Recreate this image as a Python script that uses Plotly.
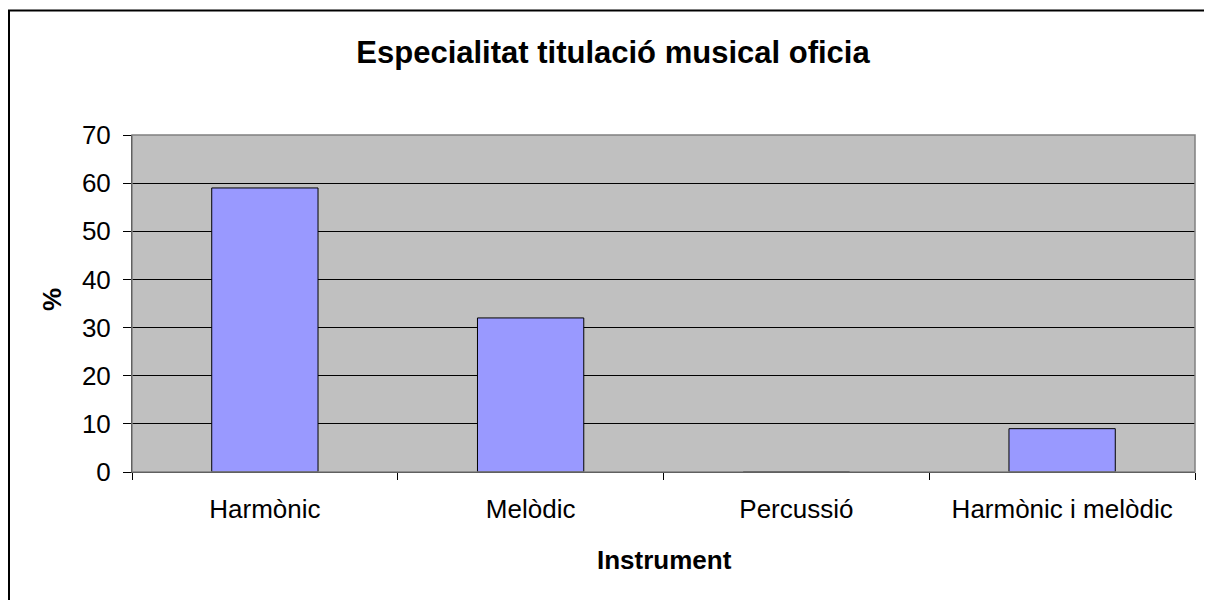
import plotly.graph_objects as go

# data
instruments = ["Harmònic", "Melòdic", "Percussió", "Harmònic i melòdic"]
percent = [59, 32, 0, 9]
y_ticks = [0, 10, 20, 30, 40, 50, 60, 70]

# page body has an 8px margin, so the figure is sized to fit inside the window
W, H = 1204, 592
L, R, T, B = 124, 17, 127, 128
pw, ph = W - L - R, H - T - B

fig = go.Figure()
fig.add_trace(go.Bar(
    x=instruments, y=percent,
    marker=dict(color="#9999FF", line=dict(color="#000000", width=1)),
    width=0.4,
))

fig.update_layout(
    width=W, height=H,
    margin=dict(l=L, r=R, t=T, b=B),
    paper_bgcolor="white", plot_bgcolor="#C0C0C0",
    font=dict(family="Liberation Sans, Arial", size=26, color="#000000"),
    showlegend=False,
    title=dict(text="<b>Especialitat titulació musical oficia</b>",
               x=605 / W, xanchor="center", y=1 - 44 / H, yanchor="middle",
               font=dict(size=31)),
)

fig.update_xaxes(
    type="category", range=[-0.5, 3.5],
    showline=True, linecolor="#000000", linewidth=1,
    ticks="outside", tickson="boundaries", ticklen=7, tickcolor="#000000",
    ticklabelstandoff=14,
    showgrid=False,
)
fig.update_yaxes(
    range=[0, 70], tickvals=y_ticks,
    showline=True, linecolor="#000000", linewidth=1,
    ticks="outside", ticklen=8, tickcolor="#000000",
    ticklabelstandoff=7,
    showgrid=True, gridcolor="#000000", gridwidth=1,
    zeroline=False,
)

# axis titles
fig.add_annotation(text="<b>Instrument</b>", xref="paper", yref="paper",
                   x=(656 - L) / pw, y=(H - B - 552) / ph,
                   showarrow=False, xanchor="center", yanchor="middle",
                   font=dict(size=26))
fig.add_annotation(text="<b>%</b>", xref="paper", yref="paper",
                   x=(44 - L) / pw, y=(H - B - 292) / ph, textangle=-90,
                   showarrow=False, xanchor="center", yanchor="middle",
                   font=dict(size=26))

# grey frame round the plot area and the outer chart border
fig.add_shape(type="rect", xref="paper", yref="paper", x0=0, x1=1, y0=0, y1=1,
              line=dict(color="#808080", width=1.5), layer="above")
fig.add_shape(type="rect", xref="paper", yref="paper",
              x0=(1 - L) / pw, x1=(W + 20 - L) / pw,
              y0=(H - B - (H + 20)) / ph, y1=(H - B - 2.5) / ph,
              line=dict(color="#000000", width=2))

fig.write_html("out.html")
